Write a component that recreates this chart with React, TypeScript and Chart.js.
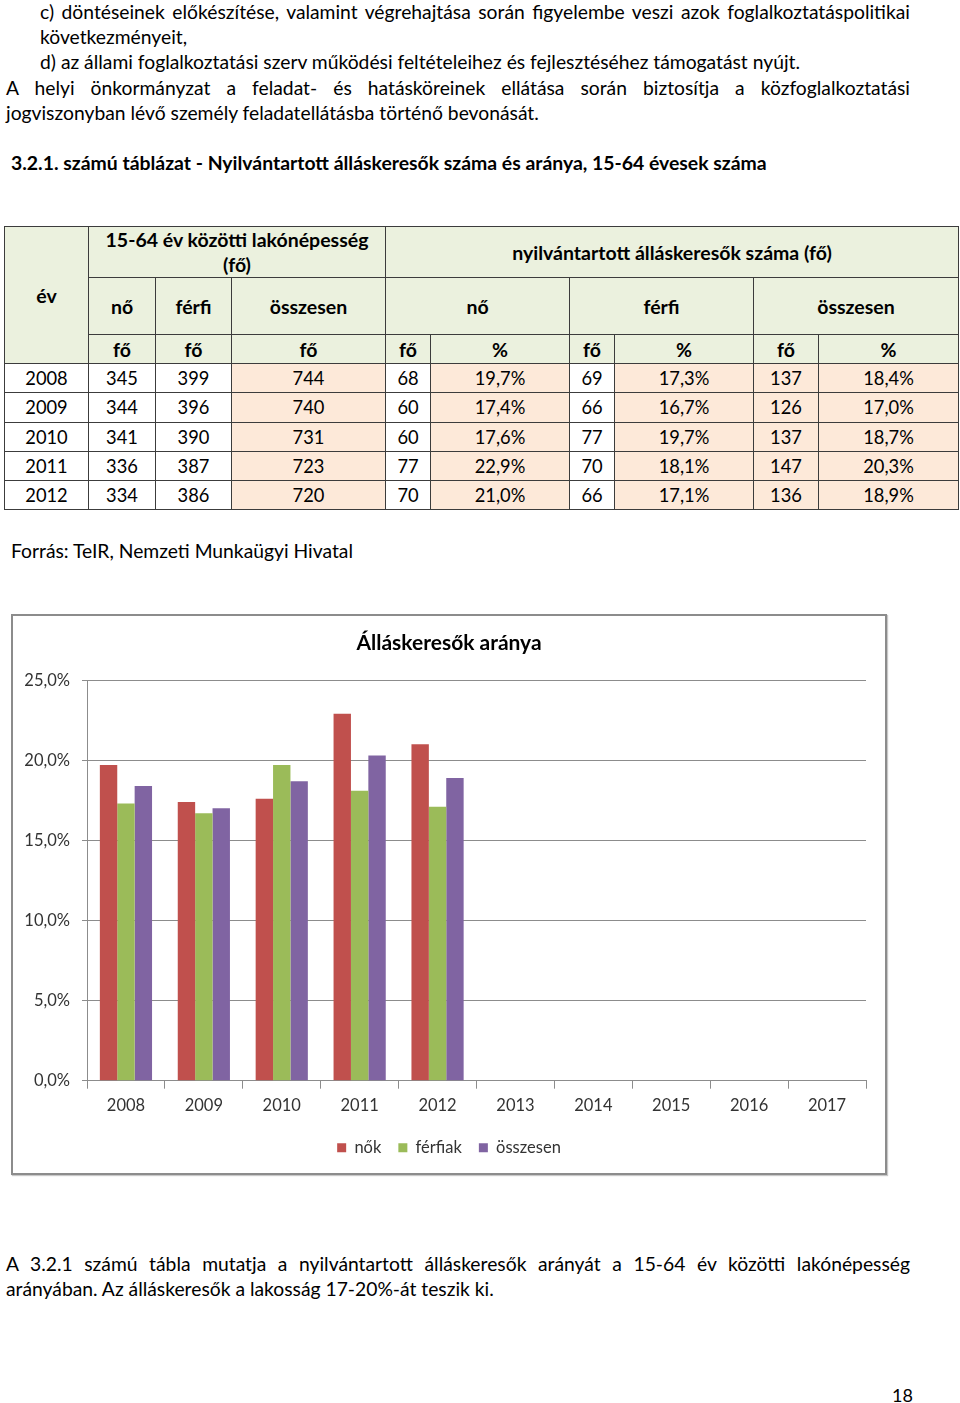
import React, { useEffect, useRef } from "react";
import { Chart, registerables } from "chart.js";

Chart.register(...registerables);

// ---------- data ----------
const tableYears = ["2008", "2009", "2010", "2011", "2012"];
const popWomen = [345, 344, 341, 336, 334];
const popMen = [399, 396, 390, 387, 386];
const popTotal = [744, 740, 731, 723, 720];
const seekWomen = [68, 60, 60, 77, 70];
const seekWomenPct = [19.7, 17.4, 17.6, 22.9, 21.0];
const seekMen = [69, 66, 77, 70, 66];
const seekMenPct = [17.3, 16.7, 19.7, 18.1, 17.1];
const seekTotal = [137, 126, 137, 147, 136];
const seekTotalPct = [18.4, 17.0, 18.7, 20.3, 18.9];

const chartYears = ["2008", "2009", "2010", "2011", "2012", "2013", "2014", "2015", "2016", "2017"];
const chartWomen = [19.7, 17.4, 17.6, 22.9, 21.0, null, null, null, null, null];
const chartMen = [17.3, 16.7, 19.7, 18.1, 17.1, null, null, null, null, null];
const chartTotal = [18.4, 17.0, 18.7, 20.3, 18.9, null, null, null, null, null];
const seriesNames = ["nők", "férfiak", "összesen"];
const yTicks = [0, 5, 10, 15, 20, 25];

const FONT = 'Lato, "Open Sans", "Noto Sans", sans-serif';
const GREEN = "#EBF1DE";
const PEACH = "#FDE9D9";
const LINE = "#3c3c3c";
const BODY = 19.3;

const pct = (v: number) => v.toFixed(1).replace(".", ",") + "%";

// table geometry
const colX = [4, 88, 155, 231, 385, 430, 569, 614, 753, 818, 958];
const rowY = [363, 392, 422, 451, 480, 509];
const peachCols = [3, 5, 7, 8, 9];

function Cell(props: {
  x0: number; x1: number; y0: number; y1: number; bg?: string; bold?: boolean; size?: number; children?: any;
}) {
  const { x0, x1, y0, y1, bg, bold, size, children } = props;
  return (
    <div
      style={{
        position: "absolute",
        left: x0,
        top: y0,
        width: x1 - x0 + 1,
        height: y1 - y0 + 1,
        boxSizing: "border-box",
        border: `1px solid ${LINE}`,
        background: bg || "#fff",
        display: "flex",
        alignItems: "center",
        justifyContent: "center",
        textAlign: "center",
        fontWeight: bold ? 700 : 400,
        fontSize: size || (bold ? 19.5 : 18.3),
        lineHeight: "25px",
        color: "#000",
        whiteSpace: "nowrap",
      }}
    >
      <div>{children}</div>
    </div>
  );
}

function Line(props: { x: number; y: number; w?: number; justify?: boolean; bold?: boolean; size?: number; children?: any }) {
  const { x, y, w, justify, bold, size, children } = props;
  return (
    <div
      style={{
        position: "absolute",
        left: x,
        top: y - 12.5,
        width: w,
        height: 25,
        lineHeight: "25px",
        fontSize: size || BODY,
        fontWeight: bold ? 700 : 400,
        textAlign: justify ? "justify" : "left",
        textAlignLast: justify ? "justify" : "auto",
        whiteSpace: justify ? "normal" : "nowrap",
        color: "#000",
      } as any}
    >
      {children}
    </div>
  );
}

function BarChart() {
  const ref = useRef<HTMLCanvasElement | null>(null);
  useEffect(() => {
    if (!ref.current) return;
    const tickFont = { family: FONT, size: 16.5 };
    const chart = new Chart(ref.current, {
      type: "bar",
      data: {
        labels: chartYears,
        datasets: [
          { label: seriesNames[0], data: chartWomen, backgroundColor: "#C0504D", categoryPercentage: 0.67, barPercentage: 1 },
          { label: seriesNames[1], data: chartMen, backgroundColor: "#9BBB59", categoryPercentage: 0.67, barPercentage: 1 },
          { label: seriesNames[2], data: chartTotal, backgroundColor: "#8064A2", categoryPercentage: 0.67, barPercentage: 1 },
        ],
      },
      options: {
        animation: false,
        responsive: false,
        maintainAspectRatio: false,
        layout: { padding: { left: 0, right: 0, top: 0, bottom: 6 } },
        plugins: {
          title: {
            display: true,
            text: "Álláskeresők aránya",
            color: "#000",
            font: { family: FONT, size: 21, weight: "bold" },
            padding: { top: 15, bottom: 24 },
          },
          legend: {
            position: "bottom",
            labels: { boxWidth: 9, boxHeight: 9, padding: 17, color: "#333", font: { family: FONT, size: 16.5 } },
          },
          tooltip: { enabled: false },
        },
        scales: {
          x: {
            grid: { offset: true, drawOnChartArea: false, drawTicks: true, tickLength: 8, color: "#8c8c8c" },
            border: { color: "#8c8c8c" },
            ticks: { padding: 7, color: "#333", font: tickFont, maxRotation: 0, autoSkip: false },
          },
          y: {
            min: 0,
            max: 25,
            afterBuildTicks: (s: any) => { s.ticks = yTicks.map((v) => ({ value: v })); },
            afterFit: (s: any) => { s.width = 74; },
            grid: { color: "#8c8c8c", tickLength: 5 },
            border: { color: "#8c8c8c" },
            ticks: { padding: 12, color: "#333", font: tickFont, callback: (v: any) => pct(Number(v)) },
          },
          spacer: {
            type: "linear",
            position: "right",
            display: true,
            grid: { display: false, drawTicks: false },
            border: { display: false },
            ticks: { display: false },
            afterFit: (s: any) => { s.width = 19; },
          },
        },
      } as any,
    });
    return () => chart.destroy();
  }, []);
  return <canvas ref={ref} width={872} height={556} style={{ display: "block", width: 872, height: 556 }} />;
}

export default function App() {
  const subHeads = ["fő", "fő", "fő", "fő", "%", "fő", "%", "fő", "%"];
  const rows = tableYears.map((y, i) => [
    y,
    String(popWomen[i]),
    String(popMen[i]),
    String(popTotal[i]),
    String(seekWomen[i]),
    pct(seekWomenPct[i]),
    String(seekMen[i]),
    pct(seekMenPct[i]),
    String(seekTotal[i]),
    pct(seekTotalPct[i]),
  ]);
  return (
    <div style={{ position: "absolute", left: 0, top: 0, width: 960, height: 1403, background: "#fff", fontFamily: FONT, color: "#000" }}>
      <Line x={40} y={11} w={870} justify>
        c) döntéseinek előkészítése, valamint végrehajtása során figyelembe veszi azok foglalkoztatáspolitikai
      </Line>
      <Line x={40} y={36}>következményeit,</Line>
      <Line x={40} y={61}>d) az állami foglalkoztatási szerv működési feltételeihez és fejlesztéséhez támogatást nyújt.</Line>
      <Line x={6} y={87} w={904} justify>
        A helyi önkormányzat a feladat- és hatásköreinek ellátása során biztosítja a közfoglalkoztatási
      </Line>
      <Line x={6} y={112}>jogviszonyban lévő személy feladatellátásba történő bevonását.</Line>
      <Line x={11} y={162} bold size={19.4}>3.2.1. számú táblázat - Nyilvántartott álláskeresők száma és aránya, 15-64 évesek száma</Line>

      {/* table header */}
      <Cell x0={colX[0]} x1={colX[1]} y0={226} y1={363} bg={GREEN} bold>év</Cell>
      <Cell x0={colX[1]} x1={colX[4]} y0={226} y1={277} bg={GREEN} bold>
        15-64 év közötti lakónépesség<br />(fő)
      </Cell>
      <Cell x0={colX[4]} x1={colX[10]} y0={226} y1={277} bg={GREEN} bold>nyilvántartott álláskeresők száma (fő)</Cell>
      <Cell x0={colX[1]} x1={colX[2]} y0={277} y1={334} bg={GREEN} bold>nő</Cell>
      <Cell x0={colX[2]} x1={colX[3]} y0={277} y1={334} bg={GREEN} bold>férfi</Cell>
      <Cell x0={colX[3]} x1={colX[4]} y0={277} y1={334} bg={GREEN} bold>összesen</Cell>
      <Cell x0={colX[4]} x1={colX[6]} y0={277} y1={334} bg={GREEN} bold>nő</Cell>
      <Cell x0={colX[6]} x1={colX[8]} y0={277} y1={334} bg={GREEN} bold>férfi</Cell>
      <Cell x0={colX[8]} x1={colX[10]} y0={277} y1={334} bg={GREEN} bold>összesen</Cell>
      {subHeads.map((h, j) => (
        <Cell key={"sh" + j} x0={colX[j + 1]} x1={colX[j + 2]} y0={334} y1={363} bg={GREEN} bold>{h}</Cell>
      ))}
      {rows.map((r, i) =>
        r.map((v, j) => (
          <Cell
            key={i + "-" + j}
            x0={colX[j]}
            x1={colX[j + 1]}
            y0={rowY[i]}
            y1={rowY[i + 1]}
            bg={peachCols.includes(j) ? PEACH : "#fff"}
          >
            {v}
          </Cell>
        ))
      )}

      <Line x={11} y={550}>Forrás: TeIR, Nemzeti Munkaügyi Hivatal</Line>

      <div
        style={{
          position: "absolute",
          left: 11,
          top: 614,
          width: 876,
          height: 561,
          boxSizing: "border-box",
          border: "2px solid #8c8c8c",
          boxShadow: "1px 1px 1px #c8c8c8",
          background: "#fff",
        }}
      >
        <BarChart />
      </div>

      <Line x={6} y={1263} w={904} justify>
        A 3.2.1 számú tábla mutatja a nyilvántartott álláskeresők arányát a 15-64 év közötti lakónépesség
      </Line>
      <Line x={6} y={1288}>arányában. Az álláskeresők a lakosság 17-20%-át teszik ki.</Line>
      <Line x={892} y={1395} size={18}>18</Line>
    </div>
  );
}
